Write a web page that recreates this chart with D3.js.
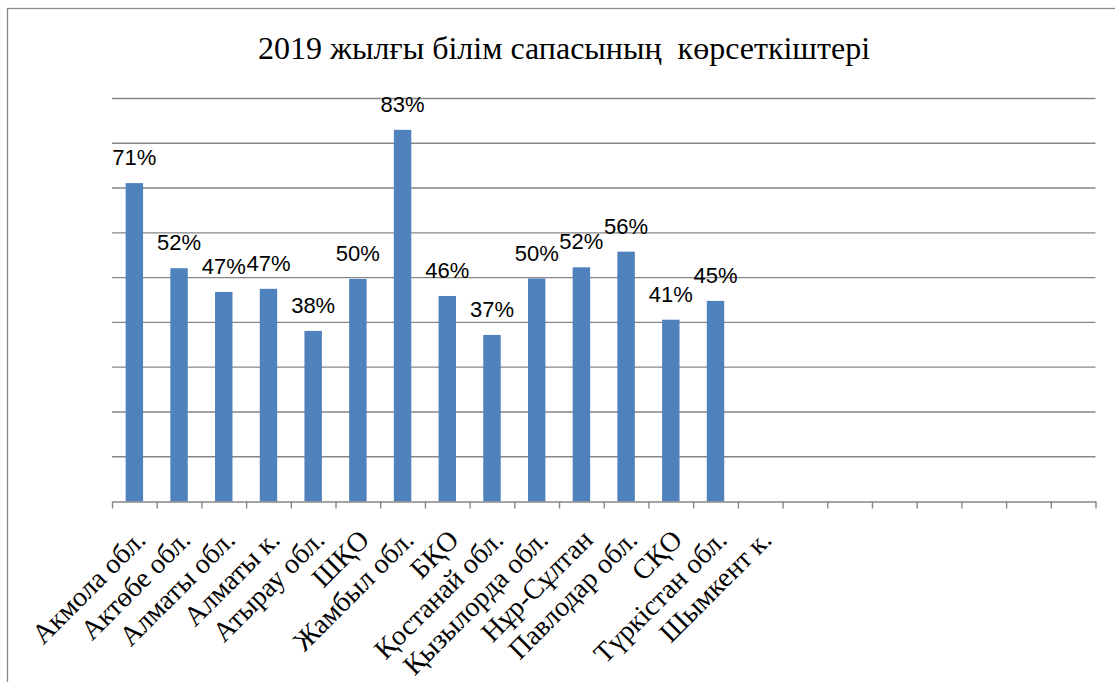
<!DOCTYPE html>
<html>
<head>
<meta charset="utf-8">
<script src="https://cdn.jsdelivr.net/npm/d3@7"></script>
<style>
  html, body { margin: 0; padding: 0; background: #fff; }
  svg { display: block; }
</style>
</head>
<body>
<svg id="chart" width="1115" height="682"></svg>
<script>
const title = "2019 жылғы білім сапасының  көрсеткіштері";
const categories = ["Акмола обл.", "Актөбе обл.", "Алматы обл.", "Алматы к.", "Атырау обл.", "ШҚО",
  "Жамбыл обл.", "БҚО", "Қостанай обл.", "Қызылорда обл.", "Нұр-Сұлтан", "Павлодар обл.", "СҚО",
  "Түркістан обл.", "Шымкент к.", "", "", "", "", "", "", ""];
const values = [71.1, 52.1, 46.8, 47.5, 38.1, 49.7, 83.0, 45.9, 37.2, 49.8, 52.3, 55.8, 40.6, 44.8, null,
  null, null, null, null, null, null, null];
const labels = ["71%", "52%", "47%", "47%", "38%", "50%", "83%", "46%", "37%", "50%", "52%", "56%", "41%", "45%", "",
  "", "", "", "", "", "", ""];
const yTicks = [0, 10, 20, 30, 40, 50, 60, 70, 80, 90];

const svg = d3.select("#chart");
const plot = { left: 112, right: 1095.5, top: 98.5, bottom: 501.5 };

// frame
svg.append("rect").attr("x", 7.5).attr("y", 8.5).attr("width", 1300).attr("height", 900)
  .attr("fill", "none").attr("stroke", "#8a8a8a").attr("stroke-width", 1.3);

svg.append("text").attr("x", 564).attr("y", 59).attr("text-anchor", "middle")
  .attr("font-family", "'Liberation Serif', 'Times New Roman', serif").attr("font-size", 32)
  .attr("fill", "#000").style("white-space", "pre").text(title);

const idx = d3.range(categories.length);
const x = d3.scaleBand().domain(idx).range([plot.left, plot.right]).paddingInner(0).paddingOuter(0);
const xb = d3.scaleLinear().domain([0, categories.length]).range([plot.left, plot.right]);
const y = d3.scaleLinear().domain([0, 90]).range([plot.bottom, plot.top]);

// gridlines
svg.append("g").selectAll("line").data(yTicks.filter(d => d > 0)).join("line")
  .attr("x1", plot.left).attr("x2", plot.right)
  .attr("y1", d => y(d)).attr("y2", d => y(d))
  .attr("stroke", "#868686").attr("stroke-width", 1.4);

// bars
const bw = x.bandwidth() * 0.39;
svg.append("g").selectAll("rect").data(idx.filter(i => values[i] != null)).join("rect")
  .attr("x", i => x(i) + x.bandwidth() / 2 - bw / 2)
  .attr("width", bw)
  .attr("y", i => y(values[i]))
  .attr("height", i => y(0) - y(values[i]))
  .attr("fill", "#4F81BD");

// x axis (ticks between categories)
const axis = d3.axisBottom(xb).tickValues(d3.range(categories.length + 1)).tickFormat("").tickSize(7).tickSizeOuter(0);
const ax = svg.append("g").attr("transform", `translate(0,${plot.bottom})`).call(axis);
ax.select(".domain").attr("stroke", "#868686").attr("stroke-width", 1.4);
ax.selectAll(".tick line").attr("stroke", "#868686").attr("stroke-width", 1.4);

// category labels
svg.append("g").selectAll("text").data(idx.filter(i => categories[i])).join("text")
  .attr("transform", i => `translate(${x(i) + x.bandwidth() / 2 + 6},${plot.bottom + 33}) rotate(-45)`)
  .attr("text-anchor", "end").attr("dy", "0.35em")
  .attr("font-family", "'Liberation Serif', 'Times New Roman', serif").attr("font-size", 28)
  .attr("fill", "#000").text(i => categories[i]);

// data labels
svg.append("g").selectAll("text").data(idx.filter(i => values[i] != null)).join("text")
  .attr("x", i => x(i) + x.bandwidth() / 2)
  .attr("y", i => y(values[i]) - 18)
  .attr("text-anchor", "middle")
  .attr("font-family", "'Liberation Sans', Arial, sans-serif").attr("font-size", 22)
  .attr("fill", "#000").text(i => labels[i]);
</script>
</body>
</html>
